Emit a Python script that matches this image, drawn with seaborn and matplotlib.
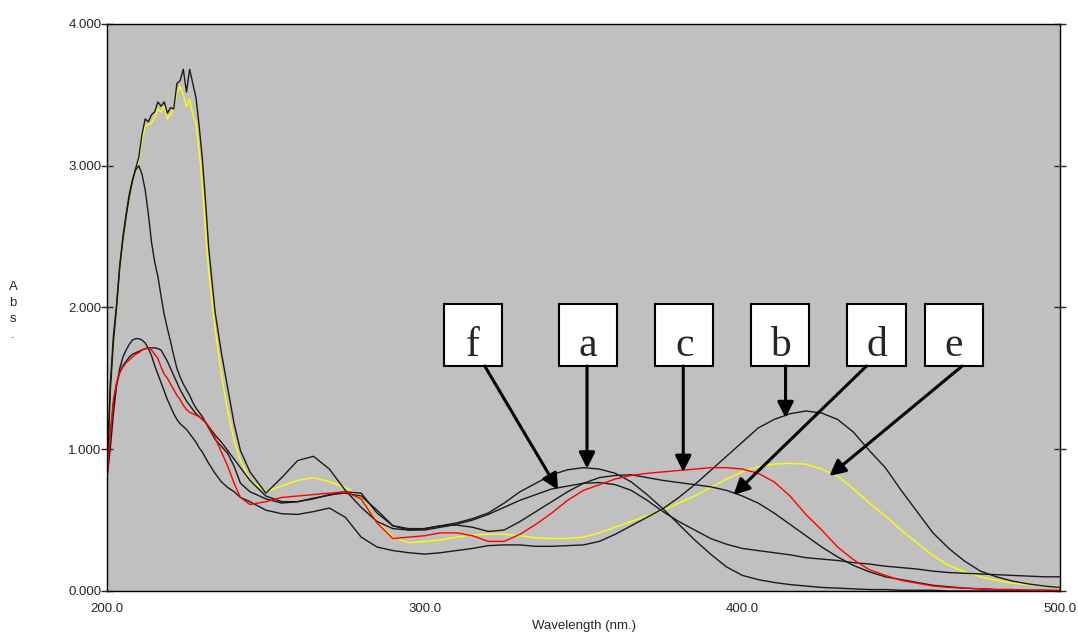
import seaborn as sns
import matplotlib.pyplot as plt
from matplotlib.patches import Rectangle
import pandas as pd
import numpy as np

# UV-Vis absorption spectra of six samples (a-f), 200-500 nm

# wavelength grid (nm): 1 nm steps in the far UV, 5 nm steps after 245 nm
wavelength = (list(range(200, 233)) + [234, 236, 238, 240, 242]
              + list(range(245, 501, 5)))

abs_a = [0.80, 1.45, 1.80, 2.02, 2.30, 2.50, 2.66, 2.80, 2.90, 2.98,
         3.06, 3.22, 3.33, 3.31, 3.36, 3.38, 3.45, 3.42, 3.45, 3.37,
         3.41, 3.40, 3.58, 3.60, 3.68, 3.52, 3.68, 3.58, 3.48, 3.28,
         3.05, 2.75, 2.42,
         1.97, 1.68, 1.43, 1.18, 0.99,
         0.84, 0.69, 0.80, 0.92, 0.95, 0.86, 0.71, 0.59, 0.49, 0.44,
         0.43, 0.44, 0.46, 0.48, 0.51, 0.55, 0.62, 0.70, 0.76, 0.82,
         0.855, 0.87, 0.86, 0.83, 0.77, 0.68, 0.58, 0.47, 0.36, 0.26,
         0.17, 0.11, 0.08, 0.06, 0.045, 0.035, 0.025, 0.02, 0.015, 0.01,
         0.01, 0.005, 0.005, 0.005, 0.0, 0.0, 0.0, 0.0, 0.0, 0.0,
         0.0, 0.0]

abs_b = [0.80, 1.00, 1.25, 1.45, 1.57, 1.65, 1.70, 1.74, 1.77, 1.78,
         1.78, 1.77, 1.75, 1.71, 1.66, 1.59, 1.53, 1.47, 1.41, 1.35,
         1.30, 1.25, 1.21, 1.18, 1.16, 1.14, 1.11, 1.08, 1.05, 1.01,
         0.98, 0.94, 0.90,
         0.83, 0.77, 0.73, 0.70, 0.66,
         0.63, 0.57, 0.545, 0.54, 0.56, 0.585, 0.52, 0.38, 0.31, 0.285,
         0.27, 0.26, 0.27, 0.285, 0.30, 0.32, 0.325, 0.325, 0.315, 0.315,
         0.32, 0.325, 0.35, 0.40, 0.46, 0.52, 0.58, 0.66, 0.75, 0.85,
         0.95, 1.05, 1.15, 1.21, 1.25, 1.27, 1.255, 1.21, 1.12, 0.99,
         0.87, 0.71, 0.56, 0.41, 0.30, 0.21, 0.14, 0.10, 0.07, 0.05,
         0.035, 0.025]

abs_c = [0.80, 1.10, 1.35, 1.47, 1.54, 1.58, 1.61, 1.63, 1.65, 1.67,
         1.68, 1.70, 1.71, 1.71, 1.70, 1.67, 1.64, 1.58, 1.53, 1.50,
         1.46, 1.42, 1.38, 1.35, 1.31, 1.28, 1.26, 1.25, 1.24, 1.23,
         1.21, 1.19, 1.16,
         1.08, 0.98, 0.88, 0.76, 0.66,
         0.61, 0.63, 0.66, 0.67, 0.68, 0.69, 0.70, 0.65, 0.48, 0.37,
         0.38, 0.39, 0.41, 0.41, 0.39, 0.35, 0.35, 0.40, 0.47, 0.55,
         0.64, 0.71, 0.75, 0.79, 0.815, 0.83, 0.84, 0.85, 0.86, 0.87,
         0.87, 0.86, 0.83, 0.77, 0.67, 0.54, 0.43, 0.31, 0.22, 0.15,
         0.11, 0.075, 0.055, 0.035, 0.025, 0.02, 0.015, 0.01, 0.01, 0.005,
         0.005, 0.005]

abs_d = [0.80, 1.40, 1.75, 2.00, 2.28, 2.48, 2.64, 2.78, 2.89, 2.97,
         3.00, 2.94, 2.83, 2.66, 2.46, 2.32, 2.22, 2.08, 1.95, 1.85,
         1.76, 1.66, 1.57, 1.51, 1.46, 1.42, 1.38, 1.33, 1.29, 1.26,
         1.23, 1.19, 1.15,
         1.07, 1.02, 0.97, 0.88, 0.76,
         0.70, 0.65, 0.62, 0.63, 0.655, 0.675, 0.70, 0.69, 0.55, 0.46,
         0.44, 0.44, 0.46, 0.465, 0.45, 0.42, 0.43, 0.49, 0.56, 0.63,
         0.70, 0.76, 0.80, 0.815, 0.82, 0.80, 0.78, 0.765, 0.75, 0.735,
         0.71, 0.67, 0.62, 0.55, 0.47, 0.39, 0.31, 0.24, 0.18, 0.135,
         0.10, 0.08, 0.06, 0.04, 0.03, 0.02, 0.015, 0.01, 0.01, 0.005,
         0.005, 0.0]

abs_e = [0.80, 1.40, 1.75, 2.00, 2.28, 2.48, 2.64, 2.78, 2.88, 2.96,
         3.04, 3.18, 3.28, 3.29, 3.30, 3.34, 3.40, 3.38, 3.42, 3.33,
         3.36, 3.40, 3.52, 3.56, 3.50, 3.42, 3.47, 3.36, 3.30, 3.10,
         2.85, 2.55, 2.25,
         1.85, 1.52, 1.27, 1.06, 0.92,
         0.78, 0.70, 0.74, 0.78, 0.80, 0.77, 0.73, 0.66, 0.49, 0.38,
         0.34, 0.35, 0.36, 0.38, 0.395, 0.40, 0.40, 0.39, 0.375, 0.37,
         0.37, 0.38, 0.41, 0.45, 0.49, 0.53, 0.57, 0.62, 0.67, 0.73,
         0.79, 0.84, 0.875, 0.895, 0.90, 0.895, 0.86, 0.81, 0.72, 0.62,
         0.53, 0.43, 0.34, 0.25, 0.18, 0.135, 0.10, 0.075, 0.055, 0.045,
         0.035, 0.03]

abs_f = [0.80, 1.10, 1.32, 1.46, 1.54, 1.59, 1.62, 1.65, 1.67, 1.68,
         1.69, 1.70, 1.71, 1.715, 1.715, 1.715, 1.71, 1.70, 1.66, 1.62,
         1.57, 1.52, 1.47, 1.42, 1.38, 1.34, 1.31, 1.28, 1.25, 1.23,
         1.21, 1.19, 1.16,
         1.10, 1.05, 0.99, 0.93, 0.87,
         0.78, 0.67, 0.63, 0.63, 0.65, 0.68, 0.69, 0.67, 0.57, 0.46,
         0.43, 0.43, 0.45, 0.47, 0.50, 0.54, 0.59, 0.64, 0.68, 0.72,
         0.74, 0.76, 0.765, 0.75, 0.71, 0.64, 0.56, 0.49, 0.43, 0.37,
         0.33, 0.30, 0.285, 0.27, 0.255, 0.235, 0.225, 0.215, 0.20, 0.19,
         0.175, 0.165, 0.155, 0.14, 0.13, 0.125, 0.12, 0.115, 0.11, 0.105,
         0.10, 0.10]

samples = ["e", "a", "b", "d", "f", "c"]
series = {"a": abs_a, "b": abs_b, "c": abs_c, "d": abs_d, "e": abs_e, "f": abs_f}
colors = {"a": "#1a1a1a", "b": "#1a1a1a", "c": "#ff0000",
          "d": "#1a1a1a", "e": "#ffff00", "f": "#1a1a1a"}

df = pd.concat([pd.DataFrame({"Wavelength": wavelength, "Abs": series[s], "sample": s})
                for s in samples], ignore_index=True)

# label boxes (left edge in nm) and arrow start / tip (nm, Abs)
box_left = {"f": 306.0, "a": 342.3, "c": 372.6, "b": 402.8, "d": 433.1, "e": 457.4}
arrows = {"f": ((318.9, 1.587), (342.0, 0.713)),
          "a": ((351.1, 1.587), (351.1, 0.864)),
          "c": ((381.4, 1.587), (381.4, 0.840)),
          "b": ((413.6, 1.587), (413.6, 1.220)),
          "d": ((439.1, 1.587), (397.2, 0.677)),
          "e": ((469.2, 1.587), (427.4, 0.811))}

sns.set_style("white")
plt.rcParams["font.family"] = ["Liberation Sans", "DejaVu Sans"]

fig = plt.figure(figsize=(10.78, 6.32), dpi=100)
ax = fig.add_axes([0.0993, 0.0649, 0.8840, 0.8972])
ax.set_facecolor("#c0c0c0")

sns.lineplot(data=df, x="Wavelength", y="Abs", hue="sample", hue_order=samples,
             palette=colors, estimator=None, sort=False, legend=False,
             linewidth=1.0, ax=ax)

ax.set_xlim(200, 500)
ax.set_ylim(0, 4)
ax.set_xticks([200, 300, 400, 500])
ax.set_xticklabels(["200.0", "300.0", "400.0", "500.0"])
ax.set_yticks([0, 1, 2, 3, 4])
ax.set_yticklabels(["0.000", "1.000", "2.000", "3.000", "4.000"])
ax.tick_params(axis="y", direction="inout", length=8, width=1, pad=0,
               labelsize=9.5, right=True, left=True)
ax.tick_params(axis="x", direction="in", length=7, width=1, pad=9, labelsize=9.5)
for sp in ax.spines.values():
    sp.set_color("black")
    sp.set_linewidth(1.0)

ax.set_xlabel("Wavelength (nm.)", fontsize=9.5, labelpad=3)
ax.set_ylabel("")
fig.text(13 / 1078, 1 - 311 / 632, "A\nb\ns\n.", ha="center", va="center",
         fontsize=9.5, linespacing=1.45)

for lab in box_left:
    x0 = box_left[lab]
    ax.add_patch(Rectangle((x0, 1.587), 18.3, 0.438, facecolor="white",
                           edgecolor="black", linewidth=1.5, zorder=5))
    ax.text(x0 + 9.15, 1.658, lab, ha="center", va="baseline", fontsize=30,
            family=["Liberation Serif", "DejaVu Serif"], zorder=6)
    start, tip = arrows[lab]
    ax.annotate("", xy=tip, xytext=start, zorder=6,
                arrowprops=dict(arrowstyle="-|>", color="black", lw=2.2,
                                mutation_scale=24, shrinkA=0, shrinkB=0))

fig.savefig("out.png", dpi=100)
